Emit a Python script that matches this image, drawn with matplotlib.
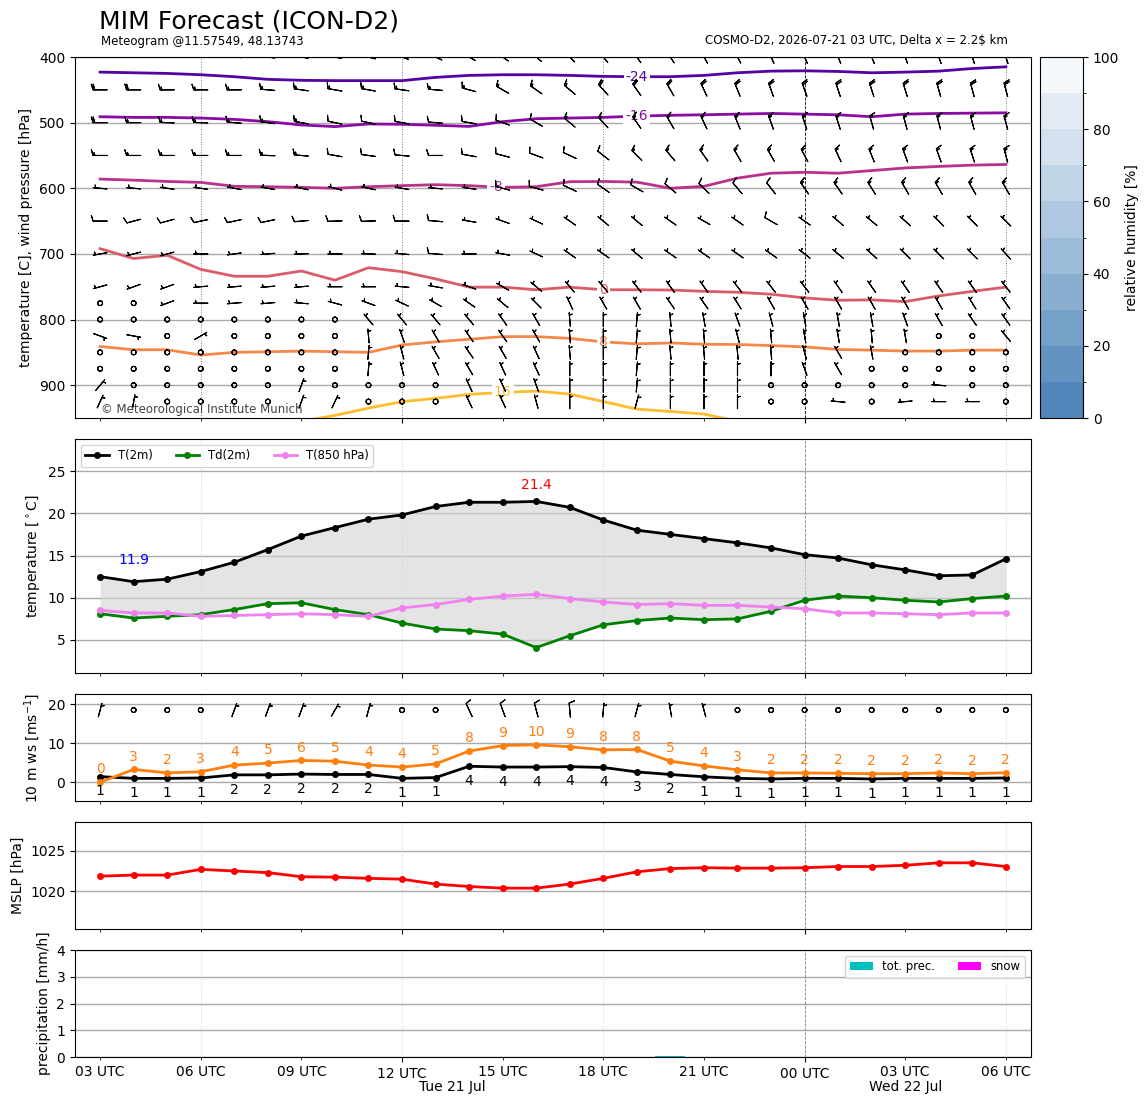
import numpy as np
import matplotlib
matplotlib.use('Agg')
import matplotlib.pyplot as plt
import matplotlib.transforms as mtransforms
from matplotlib.colors import ListedColormap, BoundaryNorm
from matplotlib.cm import ScalarMappable

# ===== TIME AXIS =====
hours = np.arange(28)          # 0 = Tue 21 Jul 03 UTC, hourly up to Wed 22 Jul 06 UTC
major_hours = [9, 21]          # 12 UTC, 00 UTC
major_labels = ['12 UTC', '00 UTC']
minor_hours = [0, 3, 6, 12, 15, 18, 24, 27]
minor_labels = ['03 UTC', '06 UTC', '09 UTC', '15 UTC', '18 UTC', '21 UTC', '03 UTC', '06 UTC']
grid_hours = [3, 9, 15, 27]
midnight_hour = 21
day_labels = ['Tue 21 Jul', 'Wed 22 Jul']
day_start = [0, 21]
day_end = [21, 27]

# ===== SURFACE DATA =====
t2m = [12.5, 11.9, 12.2, 13.1, 14.2, 15.7, 17.3, 18.3, 19.3, 19.8, 20.8, 21.3, 21.3, 21.4,
       20.7, 19.2, 18.0, 17.5, 17.0, 16.5, 15.9, 15.1, 14.7, 13.9, 13.3, 12.6, 12.7, 14.6]
td2m = [8.1, 7.6, 7.8, 8.0, 8.6, 9.3, 9.4, 8.6, 8.0, 7.0, 6.3, 6.1, 5.7, 4.1,
        5.5, 6.8, 7.3, 7.6, 7.4, 7.5, 8.4, 9.7, 10.2, 10.0, 9.7, 9.5, 9.9, 10.2]
t850 = [8.5, 8.2, 8.2, 7.8, 7.9, 8.0, 8.1, 8.0, 7.8, 8.8, 9.2, 9.8, 10.2, 10.4,
        9.9, 9.5, 9.2, 9.3, 9.1, 9.1, 8.9, 8.7, 8.2, 8.2, 8.1, 8.0, 8.2, 8.2]
ws10 = [1.45, 1.0, 1.0, 1.1, 1.9, 1.9, 2.1, 2.0, 2.0, 1.0, 1.2, 4.1, 3.9, 3.9,
        4.0, 3.8, 2.65, 2.0, 1.4, 1.0, 0.85, 1.0, 1.0, 0.85, 1.0, 1.0, 1.0, 1.1]
gust10 = [0.0, 3.3, 2.4, 2.7, 4.4, 4.9, 5.6, 5.4, 4.4, 3.9, 4.7, 8.0, 9.4, 9.6,
          9.1, 8.3, 8.4, 5.4, 4.2, 3.2, 2.4, 2.4, 2.3, 2.2, 2.2, 2.4, 2.2, 2.45]
wd10 = [15, 0, 0, 0, 20, 20, 20, 30, 15, 0, 0, 335, 340, 345,
        355, 5, 15, 350, 345, 0, 0, 0, 0, 0, 0, 0, 0, 0]
mslp = [1021.87, 1022.0, 1022.0, 1022.7, 1022.5, 1022.3, 1021.8, 1021.75, 1021.6, 1021.5,
        1020.9, 1020.6, 1020.4, 1020.4, 1020.9, 1021.6, 1022.4, 1022.8, 1022.9, 1022.85,
        1022.85, 1022.9, 1023.05, 1023.05, 1023.2, 1023.5, 1023.5, 1023.05]
prec_tot = [0, 0, 0, 0, 0, 0, 0, 0, 0, 0, 0, 0, 0, 0,
            0, 0, 0, 0.05, 0, 0, 0, 0, 0, 0, 0, 0, 0, 0]
prec_snow = [0] * 28

# ===== PROFILE: ISOTHERMS (pressure of each isotherm per hour, hPa) =====
iso_levels = [-24, -16, -8, 0, 8, 16]
p_iso_m24 = [423, 424, 425, 427, 430, 434, 435.5, 436, 436, 436, 431, 428, 427, 427,
             428, 429.5, 430, 430, 428, 424, 421.5, 421, 422, 424, 423, 421.5, 417.5, 415]
p_iso_m16 = [491, 492, 492, 493, 495, 498.5, 503.5, 506, 502, 502.5, 504, 505.7, 498.5, 494,
             493, 492, 490, 488.8, 488, 487, 486, 487, 488, 491, 487, 486, 485.5, 485]
p_iso_m8 = [586, 587.6, 589.6, 591, 597, 597.6, 598.6, 600, 597.6, 596, 594.5, 596, 598.6, 597.6,
            590, 589.6, 590.6, 600, 597, 584.5, 577, 575.6, 577, 573, 569, 566.7, 564.7, 563.7]
p_iso_0 = [692, 707, 702, 723.5, 734, 734, 726, 740, 721, 727, 738, 750.6, 750.6, 754.6,
           750.6, 754.6, 754.6, 755, 757, 758.4, 761.4, 767, 770.6, 770, 772.6, 764, 757, 750.6]
p_iso_8 = [841, 846, 846, 854, 850, 849, 848, 849, 850, 838.8, 834, 830, 826, 826,
           828.6, 834, 837, 835.6, 837.6, 838, 839.6, 841.6, 845.6, 846.6, 848, 848, 846.6, 846.6]
p_iso_16 = [np.nan] * 6 + [955, 946, 935, 925, 920, 914, 911, 909,
                           913.5, 925, 936.4, 940, 944, 955] + [np.nan] * 8
iso_label_hour = [16, 16, 11.8, 15, 15, 12]

# ===== PROFILE: WIND (direction from [deg], speed [kt]) =====
levels = [400, 450, 500, 550, 600, 650, 700, 750, 775, 800, 825, 850, 875, 900, 925]
wind_dir = [
    [270, 270, 270, 272, 275, 278, 280, 282, 285, 290, 295, 300, 305, 310, 315, 320, 325, 328, 330, 332, 335, 336, 338, 338, 340, 340, 342, 342],
    [270, 270, 270, 270, 270, 275, 278, 280, 280, 278, 275, 285, 300, 305, 310, 318, 325, 330, 335, 338, 340, 340, 342, 342, 343, 344, 345, 345],
    [270, 270, 272, 272, 275, 278, 280, 282, 282, 280, 275, 280, 290, 300, 310, 318, 325, 330, 335, 338, 340, 342, 342, 344, 345, 345, 345, 345],
    [270, 270, 270, 270, 270, 272, 275, 280, 278, 275, 270, 280, 285, 290, 295, 308, 315, 320, 325, 330, 330, 332, 335, 338, 340, 340, 342, 345],
    [275, 275, 278, 278, 280, 280, 282, 285, 282, 280, 275, 278, 285, 285, 295, 305, 300, 310, 315, 320, 322, 325, 325, 328, 330, 330, 330, 330],
    [270, 255, 255, 258, 258, 258, 265, 268, 268, 270, 275, 280, 290, 295, 305, 310, 310, 305, 300, 305, 300, 305, 310, 310, 312, 315, 315, 315],
    [260, 255, 255, 270, 262, 265, 268, 270, 272, 275, 275, 270, 280, 295, 305, 305, 310, 305, 305, 305, 305, 308, 310, 312, 315, 315, 315, 318],
    [255, 250, 250, 265, 265, 265, 265, 270, 270, 275, 280, 290, 300, 310, 320, 320, 322, 325, 325, 322, 322, 322, 325, 325, 325, 325, 325, 322],
    [0, 0, 250, 270, 265, 265, 275, 285, 290, 295, 300, 305, 310, 315, 335, 330, 330, 325, 325, 328, 330, 330, 330, 330, 330, 330, 328, 325],
    [0, 0, 0, 0, 0, 0, 0, 0, 320, 320, 320, 320, 325, 330, 355, 0, 5, 355, 350, 340, 345, 350, 350, 350, 340, 330, 325, 325],
    [110, 100, 0, 60, 0, 0, 0, 0, 355, 340, 330, 325, 325, 330, 355, 0, 5, 355, 355, 345, 355, 350, 350, 355, 350, 0, 0, 320],
    [0, 0, 0, 0, 0, 0, 0, 0, 5, 345, 330, 325, 330, 335, 355, 0, 5, 355, 355, 355, 355, 345, 330, 350, 0, 0, 0, 0],
    [0, 0, 0, 0, 0, 0, 0, 0, 5, 345, 335, 330, 335, 335, 0, 0, 5, 0, 0, 0, 0, 340, 330, 0, 0, 0, 0, 0],
    [40, 0, 0, 0, 0, 0, 20, 0, 0, 0, 0, 335, 335, 340, 0, 0, 5, 0, 0, 0, 0, 0, 0, 0, 0, 275, 0, 0],
    [25, 10, 0, 0, 0, 0, 20, 25, 0, 0, 0, 335, 335, 345, 0, 0, 15, 0, 0, 0, 0, 0, 275, 0, 265, 270, 270, 0],
]
wind_spd = [
    [20, 20, 20, 20, 20, 20, 20, 15, 15, 15, 15, 15, 15, 15, 15, 15, 15, 20, 20, 20, 20, 20, 20, 20, 20, 20, 20, 20],
    [20, 20, 15, 15, 15, 15, 15, 15, 15, 15, 15, 15, 15, 15, 15, 20, 20, 20, 20, 20, 20, 20, 20, 20, 20, 20, 20, 20],
    [20, 15, 15, 15, 15, 15, 15, 10, 10, 10, 10, 10, 10, 10, 15, 15, 15, 15, 15, 15, 15, 15, 15, 15, 15, 15, 15, 15],
    [15, 15, 15, 15, 15, 15, 15, 10, 10, 10, 10, 10, 10, 10, 10, 10, 15, 15, 15, 15, 15, 15, 15, 15, 15, 15, 15, 15],
    [5, 5, 5, 5, 5, 5, 5, 5, 5, 5, 5, 5, 10, 10, 10, 10, 10, 10, 10, 10, 10, 15, 15, 15, 15, 15, 15, 15],
    [10, 10, 10, 10, 10, 10, 10, 10, 10, 10, 10, 5, 5, 5, 5, 5, 5, 5, 5, 5, 10, 5, 5, 5, 5, 5, 5, 5],
    [5, 5, 5, 5, 5, 5, 5, 5, 5, 5, 10, 5, 5, 5, 5, 5, 5, 5, 5, 5, 5, 5, 5, 5, 5, 5, 5, 5],
    [5, 5, 5, 5, 5, 5, 5, 5, 5, 5, 5, 5, 5, 5, 5, 5, 5, 5, 5, 5, 5, 5, 5, 5, 5, 5, 5, 5],
    [0, 0, 5, 5, 5, 5, 5, 5, 5, 5, 5, 5, 5, 5, 5, 5, 5, 5, 5, 5, 5, 5, 5, 5, 5, 5, 5, 5],
    [0, 0, 0, 0, 0, 0, 0, 0, 5, 5, 5, 5, 5, 5, 5, 5, 5, 5, 5, 5, 5, 5, 5, 5, 5, 5, 5, 5],
    [5, 5, 0, 5, 0, 0, 0, 0, 5, 5, 5, 5, 5, 5, 5, 5, 5, 5, 5, 5, 5, 5, 5, 5, 5, 0, 0, 5],
    [0, 0, 0, 0, 0, 0, 0, 0, 5, 5, 5, 5, 5, 5, 5, 5, 5, 5, 5, 5, 5, 5, 5, 5, 0, 0, 0, 0],
    [0, 0, 0, 0, 0, 0, 0, 0, 5, 5, 5, 5, 5, 5, 5, 5, 5, 5, 5, 5, 5, 5, 5, 0, 0, 0, 0, 0],
    [5, 0, 0, 0, 0, 0, 5, 0, 0, 0, 0, 5, 5, 5, 5, 5, 5, 5, 5, 5, 0, 0, 0, 0, 0, 5, 0, 0],
    [5, 5, 0, 0, 0, 0, 5, 5, 0, 0, 0, 5, 5, 5, 5, 5, 5, 5, 5, 5, 0, 0, 5, 0, 5, 5, 5, 0],
]

# RH colour bar (bins of 10 %)
rh_bounds = list(range(0, 101, 10))
rh_colors = ['#5086b9', '#6393c1', '#75a0c8', '#89aed0', '#9bbbd8',
             '#adc8e0', '#c0d5e8', '#d3e1ee', '#e3ecf5', '#f5f9fc']

barb_kw = dict(length=4.5, pivot='middle', lw=0.8, sizes=dict(emptybarb=0.17))


def uv(direction, speed):
    d = np.deg2rad(np.asarray(direction, dtype=float))
    s = np.asarray(speed, dtype=float)
    return -s * np.sin(d), -s * np.cos(d)


def time_axis(ax, top_panel=False, labels=False):
    ax.set_xlim(-0.75, 27.75)
    ax.set_xticks(major_hours)
    ax.set_xticks(minor_hours, minor=True)
    if labels:
        ax.set_xticklabels(major_labels)
        ax.set_xticklabels(minor_labels, minor=True)
    else:
        ax.tick_params(axis='x', which='both', labelbottom=False)
    vcol = 'gray' if top_panel else 'lightgray'
    for h in grid_hours:
        ax.axvline(h, color=vcol, ls=':', lw=0.7, zorder=1)
    ax.axvline(midnight_hour, color='k' if top_panel else 'gray', ls='--', lw=0.6, zorder=1)
    ax.yaxis.grid(True, color='darkgray', lw=1)
    ax.set_axisbelow(True)


fig = plt.figure(figsize=(11.48, 11.05), dpi=100)
L, W = 0.0653, 0.8328
ax1 = fig.add_axes([L, 0.6217, W, 0.3267])
cax = fig.add_axes([0.9059, 0.6217, 0.0375, 0.3267])
ax2 = fig.add_axes([L, 0.3910, W, 0.2118])
ax3 = fig.add_axes([L, 0.2751, W, 0.0968])
ax4 = fig.add_axes([L, 0.1593, W, 0.0968])
ax5 = fig.add_axes([L, 0.0434, W, 0.0968])

# ===== TITLES =====
fig.text(99 / 1148, 1 - 21 / 1105, 'MIM Forecast (ICON-D2)', fontsize=18, va='center')
fig.text(101 / 1148, 1 - 41 / 1105, 'Meteogram @11.57549, 48.13743', fontsize=8.5, va='center')
fig.text(1008 / 1148, 1 - 41 / 1105, 'COSMO-D2, 2026-07-21 03 UTC, Delta x = 2.2$ km',
         fontsize=8.5, va='center', ha='right')

# ===== PANEL 1: profile =====
time_axis(ax1, top_panel=True)
iso_series = [p_iso_m24, p_iso_m16, p_iso_m8, p_iso_0, p_iso_8, p_iso_16]
cmap_iso = plt.get_cmap('plasma')
for k, (lev, pser, lh) in enumerate(zip(iso_levels, iso_series, iso_label_hour)):
    col = cmap_iso((k + 1) / 7)
    ax1.plot(hours, pser, color=col, lw=2, zorder=2)
    py = np.interp(lh, hours, pser)
    ax1.text(lh, py, str(lev), color=col, fontsize=10, ha='center', va='center', zorder=3,
             bbox=dict(fc='white', ec='none', pad=1.5))

X, Y = np.meshgrid(hours, levels)
U, V = uv(wind_dir, wind_spd)
ax1.barbs(X, Y, U, V, zorder=4, **barb_kw)
ax1.set_ylim(950, 400)
ax1.set_yticks([400, 500, 600, 700, 800, 900])
ax1.set_ylabel('temperature [C], wind pressure [hPa]')
ax1.text(0.027, 0.005, '\u00a9 Meteorological Institute Munich', transform=ax1.transAxes,
         fontsize=8.5, color='#444444', va='bottom', zorder=5)

cb = fig.colorbar(ScalarMappable(norm=BoundaryNorm(rh_bounds, len(rh_colors)),
                                 cmap=ListedColormap(rh_colors)),
                  cax=cax, ticks=range(0, 101, 20))
cb.set_label('relative humidity [%]')

# ===== PANEL 2: temperature =====
time_axis(ax2)
ax2.fill_between(hours, t2m, td2m, color='lightgray', alpha=0.6, lw=0)
ax2.plot(hours, t2m, color='k', marker='.', ms=8, lw=2, label='T(2m)')
ax2.plot(hours, td2m, color='green', marker='.', ms=8, lw=2, label='Td(2m)')
ax2.plot(hours, t850, color='violet', marker='.', ms=8, lw=2, label='T(850 hPa)')
imax = int(np.argmax(t2m))
imin = int(np.argmin(t2m))
ax2.text(hours[imax], t2m[imax] + 2.0, f'{t2m[imax]:.1f}', color='red', ha='center', va='center')
ax2.text(hours[imin], t2m[imin] + 2.6, f'{t2m[imin]:.1f}', color='blue', ha='center', va='center')
ax2.set_ylim(1.1, 28.8)
ax2.set_yticks([5, 10, 15, 20, 25])
ax2.set_ylabel(r'temperature [$^\circ$C]')
ax2.legend(loc='upper left', ncol=3, fontsize='small')

# ===== PANEL 3: 10 m wind =====
time_axis(ax3)
ax3.plot(hours, ws10, color='k', marker='.', ms=8, lw=2)
ax3.plot(hours, gust10, color='C1', marker='.', ms=8, lw=2)
for h, w, g in zip(hours, ws10, gust10):
    ax3.text(h, w - 2.0, f'{w:.0f}', ha='center', va='top', fontsize=10)
    ax3.text(h, g + 1.5, f'{g:.0f}', ha='center', va='bottom', fontsize=10, color='C1')
u10, v10 = uv(wd10, np.asarray(ws10) * 1.94384)
ax3.barbs(hours, np.full(len(hours), 18.5), u10, v10, **barb_kw)
ax3.set_ylim(-4.8, 22.6)
ax3.set_yticks([0, 10, 20])
ax3.set_ylabel(r'10 m ws [ms$^{-1}$]')

# ===== PANEL 4: MSLP =====
time_axis(ax4)
ax4.plot(hours, mslp, color='red', marker='.', ms=8, lw=2)
ax4.set_ylim(min(mslp) - 5, max(mslp) + 5)
ax4.set_yticks([1020, 1025])
ax4.set_ylabel('MSLP [hPa]')

# ===== PANEL 5: precipitation =====
time_axis(ax5, labels=True)
ax5.bar(hours, prec_tot, width=0.9, color='c', label='tot. prec.')
ax5.bar(hours, prec_snow, width=0.9, color='magenta', label='snow')
ax5.set_ylim(0, 4)
ax5.set_yticks([0, 1, 2, 3, 4])
ax5.set_ylabel('precipitation [mm/h]')
ax5.legend(loc='upper right', ncol=2, fontsize='small')
trans = mtransforms.blended_transform_factory(ax5.transData, ax5.transAxes)
for lab, a, b in zip(day_labels, day_start, day_end):
    ax5.text((a + b) / 2, -0.28, lab, transform=trans, ha='center', va='center')

fig.savefig('out.png', dpi=100)
